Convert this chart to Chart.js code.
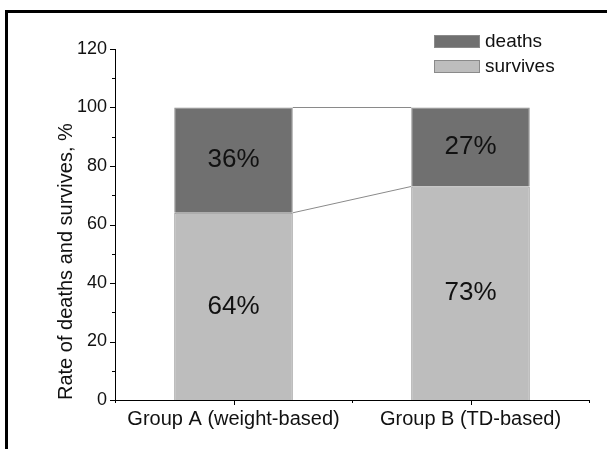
<!DOCTYPE html>
<html>
<head>
<meta charset="utf-8">
<script src="https://cdn.jsdelivr.net/npm/chart.js@4"></script>
<style>
    html, body { margin: 0; padding: 0; background: #fff; overflow: hidden; }
    #frame { position: absolute; left: 5px; top: 10px; width: 700px; height: 600px; border: 3px solid #000; }
    #wrap { position: absolute; left: 0; top: 0; width: 607px; height: 449px; }
</style>
</head>
<body>
<div id="frame"></div>
<div id="wrap"><canvas id="stackChart" width="607" height="449"></canvas></div>
<script>
const categories = ['Group A (weight-based)', 'Group B (TD-based)'];
const survives = [64, 73];
const deaths = [36, 27];
const yMin = 0;
const yMax = 120;
const yStep = 20;

const FONT = "'Liberation Sans', Arial, sans-serif";
const deathColor = '#707070';
const surviveColor = '#bdbdbd';
const edgeColor = '#8a8a8a';

// axis tick marks (major + minor), connectors between bars, value labels, legend
const extrasPlugin = {
    id: 'extras',
    afterDatasetsDraw(chart) {
        const ctx = chart.ctx;
        const area = chart.chartArea;
        const x = chart.scales.x;
        const y = chart.scales.y;

        ctx.save();
        ctx.strokeStyle = '#000';
        ctx.lineWidth = 1;

        // y ticks: major every 20, minor every 10
        for (let v = yMin; v <= yMax; v += yStep / 2) {
            const py = Math.round(y.getPixelForValue(v)) + 0.5;
            const len = (v % yStep === 0) ? 5 : 3;
            ctx.beginPath();
            ctx.moveTo(area.left, py);
            ctx.lineTo(area.left - len, py);
            ctx.stroke();
        }

        // x ticks: centers major, boundaries minor
        const n = categories.length;
        for (let i = 0; i < n; i++) {
            const px = Math.round(x.getPixelForValue(i)) + 0.5;
            ctx.beginPath();
            ctx.moveTo(px, area.bottom);
            ctx.lineTo(px, area.bottom + 5);
            ctx.stroke();
        }
        for (let i = 0; i <= n; i++) {
            const px = Math.round(x.getPixelForValue(i - 0.5)) + 0.5;
            ctx.beginPath();
            ctx.moveTo(px, area.bottom);
            ctx.lineTo(px, area.bottom + 3);
            ctx.stroke();
        }

        // connector lines between neighbouring bars
        ctx.strokeStyle = '#8a8a8a';
        chart.data.datasets.forEach((ds, di) => {
            const meta = chart.getDatasetMeta(di);
            for (let j = 0; j < meta.data.length - 1; j++) {
                const a = meta.data[j];
                const b = meta.data[j + 1];
                ctx.beginPath();
                ctx.moveTo(a.x + a.width / 2, a.y);
                ctx.lineTo(b.x - b.width / 2, b.y);
                ctx.stroke();
            }
        });

        // percentage labels
        ctx.fillStyle = '#111';
        ctx.font = '26px ' + FONT;
        ctx.textAlign = 'center';
        ctx.textBaseline = 'middle';
        chart.data.datasets.forEach((ds, di) => {
            const meta = chart.getDatasetMeta(di);
            meta.data.forEach((bar, j) => {
                ctx.fillText(ds.data[j] + '%', bar.x, (bar.y + bar.base) / 2);
            });
        });

        // legend (deaths on top)
        const items = [
            { label: 'deaths', color: deathColor },
            { label: 'survives', color: surviveColor }
        ];
        ctx.font = '19px ' + FONT;
        ctx.textAlign = 'left';
        items.forEach((it, k) => {
            const top = 35 + k * 25;
            ctx.fillStyle = it.color;
            ctx.fillRect(434, top, 46, 13);
            ctx.strokeStyle = edgeColor;
            ctx.strokeRect(434.5, top + 0.5, 45, 12);
            ctx.fillStyle = '#111';
            ctx.fillText(it.label, 485, top + 7);
        });

        ctx.restore();
    }
};

new Chart(document.getElementById('stackChart'), {
    type: 'bar',
    data: {
        labels: categories,
        datasets: [
            {
                label: 'survives',
                data: survives,
                backgroundColor: surviveColor,
                borderColor: edgeColor,
                borderWidth: 1,
                categoryPercentage: 1,
                barPercentage: 0.5
            },
            {
                label: 'deaths',
                data: deaths,
                backgroundColor: deathColor,
                borderColor: edgeColor,
                borderWidth: 1,
                categoryPercentage: 1,
                barPercentage: 0.5
            }
        ]
    },
    options: {
        responsive: false,
        animation: false,
        events: [],
        layout: { padding: { left: 48, top: 49, right: 18, bottom: 0 } },
        plugins: {
            legend: { display: false },
            tooltip: { enabled: false }
        },
        scales: {
            x: {
                stacked: true,
                grid: { display: false, drawTicks: false },
                border: { display: true, color: '#000', width: 1 },
                ticks: { color: '#111', font: { family: FONT, size: 20 }, padding: 7, maxRotation: 0 },
                afterFit: (s) => { s.height = 49; }
            },
            y: {
                stacked: true,
                min: yMin,
                max: yMax,
                grid: { display: false, drawTicks: false },
                border: { display: true, color: '#000', width: 1 },
                ticks: { stepSize: yStep, color: '#111', font: { family: FONT, size: 18 }, padding: 8 },
                title: {
                    display: true,
                    text: 'Rate of deaths and survives, %',
                    align: 'start',
                    color: '#111',
                    font: { family: FONT, size: 20 },
                    padding: { top: 6, bottom: 0 }
                },
                afterFit: (s) => { s.width = 67; }
            }
        }
    },
    plugins: [extrasPlugin]
});
</script>
</body>
</html>
